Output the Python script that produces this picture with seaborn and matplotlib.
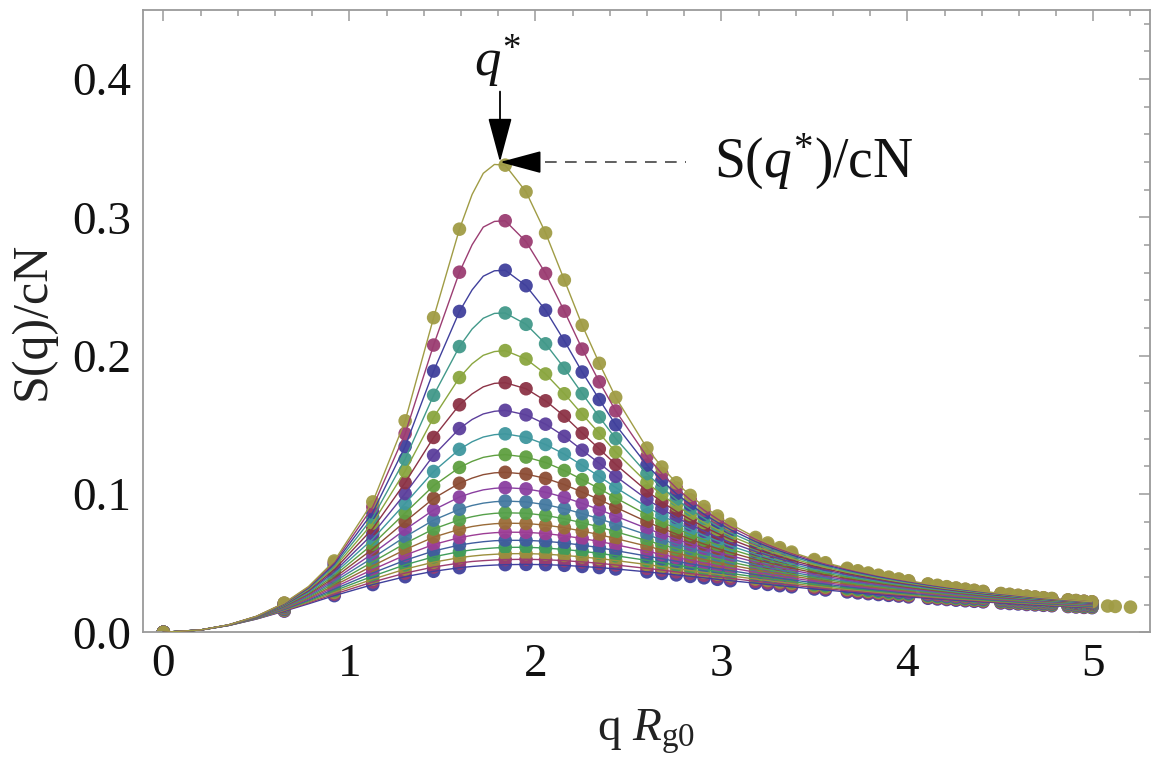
import numpy as np
import pandas as pd
import matplotlib
matplotlib.use("Agg")
import matplotlib.pyplot as plt
import seaborn as sns
from matplotlib.ticker import MultipleLocator, FixedLocator, FixedFormatter

nan = np.nan

# ---------------- data ----------------
q_dots = [0, 0.65, 0.919, 1.126, 1.30, 1.453, 1.592, 1.838, 1.95, 2.055, 2.156, 2.252, 2.344, 2.432,
          2.60, 2.68, 2.758, 2.833, 2.907, 2.979, 3.049, 3.184, 3.25, 3.314, 3.378, 3.50, 3.56, 3.677,
          3.734, 3.79, 3.845, 3.90, 3.954, 4.007, 4.111, 4.162, 4.212, 4.262, 4.312, 4.36, 4.408, 4.503,
          4.55, 4.596, 4.642, 4.687, 4.732, 4.777, 4.864, 4.907, 4.95, 4.993, 5.077, 5.118, 5.20]

# series, top curve (s01) to bottom curve (s20)
s01 = [0, 0.0212, 0.0516, 0.0943, 0.1529, 0.2275, 0.2915, 0.3378, 0.3185, 0.2888, 0.2547, 0.2220, 0.1945, 0.1699, 0.1332, 0.1195, 0.1081, 0.0990, 0.0909, 0.0841, 0.0782, 0.0686, 0.0646, 0.0612, 0.0580, 0.0526, 0.0503, 0.0463, 0.0445, 0.0429, 0.0413, 0.0399, 0.0386, 0.0373, 0.0350, 0.0340, 0.0330, 0.0321, 0.0312, 0.0304, 0.0296, 0.0281, 0.0275, 0.0268, 0.0262, 0.0256, 0.0250, 0.0245, 0.0235, 0.0230, 0.0225, 0.0221, 0.0190, 0.0187, 0.0182]
s02 = [0, 0.0210, 0.0505, 0.0907, 0.1437, 0.2077, 0.2604, 0.2976, 0.2825, 0.2595, 0.2322, 0.2048, 0.1811, 0.1601, 0.1271, 0.1148, 0.1043, 0.0958, 0.0883, 0.0819, 0.0763, 0.0672, 0.0633, 0.0600, 0.0570, 0.0518, 0.0496, 0.0457, 0.0439, 0.0424, 0.0409, 0.0395, 0.0381, 0.0369, 0.0347, 0.0337, 0.0327, 0.0318, 0.0310, 0.0302, 0.0294, 0.0279, 0.0273, 0.0266, 0.0260, 0.0254, 0.0249, 0.0243, 0.0233, 0.0229, 0.0224, 0.0220, nan, nan, nan]
s03 = [0, 0.0208, 0.0493, 0.0868, 0.1344, 0.1889, 0.2320, 0.2618, 0.2506, 0.2329, 0.2107, 0.1882, 0.1683, 0.1500, 0.1209, 0.1098, 0.1002, 0.0924, 0.0854, 0.0795, 0.0742, 0.0656, 0.0620, 0.0588, 0.0559, 0.0509, 0.0487, 0.0450, 0.0433, 0.0418, 0.0403, 0.0390, 0.0377, 0.0365, 0.0343, 0.0333, 0.0324, 0.0315, 0.0307, 0.0299, 0.0291, 0.0277, 0.0270, 0.0264, 0.0258, 0.0252, 0.0247, 0.0242, 0.0232, 0.0227, 0.0223, 0.0218, nan, nan, nan]
s04 = [0, 0.0206, 0.0480, 0.0830, 0.1253, 0.1714, 0.2066, 0.2309, 0.2227, 0.2086, 0.1910, 0.1726, 0.1557, 0.1401, 0.1147, 0.1047, 0.0961, 0.0889, 0.0825, 0.0769, 0.0720, 0.0640, 0.0605, 0.0575, 0.0547, 0.0500, 0.0479, 0.0442, 0.0426, 0.0411, 0.0398, 0.0384, 0.0372, 0.0360, 0.0339, 0.0330, 0.0320, 0.0312, 0.0303, 0.0296, 0.0288, 0.0274, 0.0268, 0.0262, 0.0256, 0.0250, 0.0245, 0.0240, 0.0230, 0.0226, 0.0221, 0.0217, nan, nan, nan]
s05 = [0, 0.0203, 0.0467, 0.0790, 0.1166, 0.1554, 0.1842, 0.2037, 0.1976, 0.1868, 0.1725, 0.1576, 0.1439, 0.1304, 0.1083, 0.0995, 0.0917, 0.0852, 0.0793, 0.0743, 0.0697, 0.0622, 0.0589, 0.0561, 0.0534, 0.0489, 0.0469, 0.0434, 0.0419, 0.0405, 0.0391, 0.0378, 0.0366, 0.0355, 0.0335, 0.0325, 0.0316, 0.0308, 0.0300, 0.0292, 0.0285, 0.0272, 0.0265, 0.0259, 0.0253, 0.0248, 0.0243, 0.0238, 0.0228, 0.0224, 0.0219, 0.0215, nan, nan, nan]
s06 = [0, 0.0201, 0.0453, 0.0751, 0.1082, 0.1409, 0.1645, 0.1805, 0.1761, 0.1674, 0.1563, 0.1440, 0.1326, 0.1214, 0.1022, 0.0943, 0.0874, 0.0816, 0.0762, 0.0716, 0.0673, 0.0603, 0.0573, 0.0546, 0.0521, 0.0478, 0.0459, 0.0426, 0.0411, 0.0397, 0.0384, 0.0372, 0.0360, 0.0350, 0.0330, 0.0321, 0.0312, 0.0304, 0.0296, 0.0289, 0.0282, 0.0268, 0.0262, 0.0257, 0.0251, 0.0245, 0.0240, 0.0235, 0.0226, 0.0222, 0.0217, 0.0213, nan, nan, nan]
s07 = [0, 0.0198, 0.0438, 0.0712, 0.1003, 0.1280, 0.1473, 0.1605, 0.1572, 0.1505, 0.1417, 0.1317, 0.1222, 0.1128, 0.0962, 0.0894, 0.0831, 0.0779, 0.0731, 0.0688, 0.0649, 0.0584, 0.0556, 0.0531, 0.0507, 0.0467, 0.0449, 0.0417, 0.0403, 0.0390, 0.0377, 0.0365, 0.0354, 0.0344, 0.0325, 0.0316, 0.0308, 0.0300, 0.0292, 0.0285, 0.0278, 0.0265, 0.0259, 0.0254, 0.0248, 0.0243, 0.0238, 0.0233, 0.0224, 0.0220, 0.0215, 0.0211, nan, nan, nan]
s08 = [0, 0.0195, 0.0424, 0.0675, 0.0931, 0.1163, 0.1323, 0.1435, 0.1410, 0.1358, 0.1288, 0.1207, 0.1127, 0.1047, 0.0906, 0.0845, 0.0790, 0.0743, 0.0699, 0.0661, 0.0625, 0.0565, 0.0539, 0.0515, 0.0493, 0.0455, 0.0438, 0.0408, 0.0394, 0.0382, 0.0370, 0.0358, 0.0348, 0.0338, 0.0319, 0.0311, 0.0303, 0.0295, 0.0288, 0.0281, 0.0274, 0.0262, 0.0256, 0.0250, 0.0245, 0.0240, 0.0235, 0.0230, 0.0221, 0.0217, 0.0213, 0.0209, nan, nan, nan]
s09 = [0, 0.0192, 0.0409, 0.0638, 0.0863, 0.1060, 0.1192, 0.1285, 0.1267, 0.1228, 0.1170, 0.1104, 0.1039, 0.0972, 0.0850, 0.0797, 0.0750, 0.0707, 0.0668, 0.0633, 0.0601, 0.0546, 0.0521, 0.0499, 0.0479, 0.0443, 0.0427, 0.0398, 0.0386, 0.0373, 0.0362, 0.0351, 0.0341, 0.0331, 0.0314, 0.0306, 0.0298, 0.0290, 0.0283, 0.0277, 0.0270, 0.0258, 0.0253, 0.0247, 0.0242, 0.0237, 0.0232, 0.0227, 0.0219, 0.0215, 0.0211, 0.0207, nan, nan, nan]
s10 = [0, 0.0188, 0.0394, 0.0603, 0.0801, 0.0968, 0.1078, 0.1157, 0.1144, 0.1113, 0.1068, 0.1014, 0.0960, 0.0904, 0.0799, 0.0753, 0.0710, 0.0673, 0.0638, 0.0606, 0.0577, 0.0526, 0.0504, 0.0484, 0.0464, 0.0431, 0.0416, 0.0389, 0.0377, 0.0365, 0.0354, 0.0344, 0.0334, 0.0325, 0.0308, 0.0300, 0.0293, 0.0286, 0.0279, 0.0272, 0.0266, 0.0254, 0.0249, 0.0244, 0.0239, 0.0234, 0.0229, 0.0225, 0.0216, 0.0212, 0.0209, 0.0205, nan, nan, nan]
s11 = [0, 0.0185, 0.0380, 0.0570, 0.0743, 0.0885, 0.0978, 0.1046, 0.1037, 0.1013, 0.0976, 0.0932, 0.0887, 0.0840, 0.0751, 0.0710, 0.0673, 0.0640, 0.0608, 0.0580, 0.0554, 0.0507, 0.0486, 0.0468, 0.0450, 0.0418, 0.0404, 0.0379, 0.0367, 0.0356, 0.0346, 0.0336, 0.0327, 0.0318, 0.0302, 0.0295, 0.0287, 0.0281, 0.0274, 0.0268, 0.0262, 0.0250, 0.0245, 0.0240, 0.0235, 0.0231, 0.0226, 0.0222, 0.0214, 0.0210, 0.0206, 0.0202, nan, nan, nan]
s12 = [0, 0.0181, 0.0366, 0.0539, 0.0691, 0.0811, 0.0890, 0.0949, 0.0943, 0.0923, 0.0894, 0.0858, 0.0821, 0.0781, 0.0705, 0.0670, 0.0637, 0.0608, 0.0580, 0.0554, 0.0530, 0.0488, 0.0469, 0.0452, 0.0435, 0.0406, 0.0393, 0.0369, 0.0358, 0.0348, 0.0338, 0.0329, 0.0320, 0.0311, 0.0296, 0.0289, 0.0282, 0.0275, 0.0269, 0.0263, 0.0257, 0.0246, 0.0241, 0.0237, 0.0232, 0.0227, 0.0223, 0.0219, 0.0211, 0.0207, 0.0203, 0.0200, nan, nan, nan]
s13 = [0, 0.0178, 0.0352, 0.0509, 0.0643, 0.0747, 0.0814, 0.0864, 0.0861, 0.0845, 0.0821, 0.0792, 0.0762, 0.0727, 0.0663, 0.0633, 0.0604, 0.0578, 0.0553, 0.0530, 0.0508, 0.0470, 0.0452, 0.0437, 0.0421, 0.0394, 0.0382, 0.0359, 0.0349, 0.0339, 0.0330, 0.0321, 0.0313, 0.0305, 0.0290, 0.0283, 0.0276, 0.0270, 0.0264, 0.0258, 0.0253, 0.0242, 0.0237, 0.0233, 0.0228, 0.0224, 0.0220, 0.0215, 0.0208, 0.0204, 0.0201, 0.0197, nan, nan, nan]
s14 = [0, 0.0174, 0.0338, 0.0481, 0.0598, 0.0688, 0.0745, 0.0789, 0.0787, 0.0775, 0.0756, 0.0732, 0.0706, 0.0678, 0.0623, 0.0596, 0.0572, 0.0549, 0.0526, 0.0506, 0.0486, 0.0452, 0.0436, 0.0421, 0.0407, 0.0382, 0.0370, 0.0349, 0.0339, 0.0330, 0.0322, 0.0313, 0.0305, 0.0298, 0.0284, 0.0277, 0.0271, 0.0265, 0.0259, 0.0253, 0.0248, 0.0238, 0.0233, 0.0229, 0.0224, 0.0220, 0.0216, 0.0212, 0.0205, 0.0201, 0.0198, 0.0195, nan, nan, nan]
s15 = [0, 0.0171, 0.0325, 0.0454, 0.0558, 0.0635, 0.0684, 0.0724, 0.0723, 0.0714, 0.0698, 0.0678, 0.0657, 0.0633, 0.0586, 0.0563, 0.0541, 0.0521, 0.0501, 0.0483, 0.0466, 0.0434, 0.0420, 0.0406, 0.0393, 0.0370, 0.0359, 0.0339, 0.0330, 0.0322, 0.0313, 0.0305, 0.0298, 0.0291, 0.0277, 0.0271, 0.0265, 0.0259, 0.0254, 0.0249, 0.0244, 0.0234, 0.0229, 0.0225, 0.0221, 0.0217, 0.0213, 0.0209, 0.0202, 0.0198, 0.0195, 0.0192, nan, nan, nan]
s16 = [0, 0.0167, 0.0312, 0.0429, 0.0521, 0.0588, 0.0631, 0.0665, 0.0665, 0.0658, 0.0646, 0.0630, 0.0612, 0.0591, 0.0551, 0.0532, 0.0513, 0.0495, 0.0478, 0.0461, 0.0446, 0.0417, 0.0404, 0.0391, 0.0379, 0.0358, 0.0348, 0.0329, 0.0321, 0.0313, 0.0305, 0.0298, 0.0290, 0.0284, 0.0271, 0.0265, 0.0259, 0.0254, 0.0249, 0.0244, 0.0239, 0.0230, 0.0225, 0.0221, 0.0217, 0.0213, 0.0209, 0.0206, 0.0199, 0.0195, 0.0192, 0.0189, nan, nan, nan]
s17 = [0, 0.0164, 0.0300, 0.0406, 0.0488, 0.0546, 0.0583, 0.0614, 0.0615, 0.0609, 0.0599, 0.0586, 0.0571, 0.0554, 0.0520, 0.0503, 0.0486, 0.0470, 0.0455, 0.0440, 0.0426, 0.0401, 0.0389, 0.0377, 0.0366, 0.0346, 0.0337, 0.0320, 0.0312, 0.0304, 0.0297, 0.0290, 0.0283, 0.0277, 0.0265, 0.0259, 0.0254, 0.0248, 0.0243, 0.0239, 0.0234, 0.0225, 0.0221, 0.0217, 0.0213, 0.0209, 0.0206, 0.0202, 0.0196, 0.0192, 0.0189, 0.0186, nan, nan, nan]
s18 = [0, 0.0160, 0.0288, 0.0384, 0.0457, 0.0507, 0.0540, 0.0568, 0.0569, 0.0565, 0.0556, 0.0545, 0.0533, 0.0519, 0.0490, 0.0475, 0.0461, 0.0447, 0.0433, 0.0420, 0.0408, 0.0385, 0.0374, 0.0363, 0.0353, 0.0335, 0.0326, 0.0310, 0.0303, 0.0296, 0.0289, 0.0282, 0.0276, 0.0270, 0.0258, 0.0253, 0.0248, 0.0243, 0.0238, 0.0234, 0.0229, 0.0221, 0.0217, 0.0213, 0.0209, 0.0206, 0.0202, 0.0199, 0.0192, 0.0189, 0.0186, 0.0183, nan, nan, nan]
s19 = [0, 0.0156, 0.0276, 0.0364, 0.0428, 0.0472, 0.0501, 0.0526, 0.0528, 0.0525, 0.0518, 0.0509, 0.0499, 0.0487, 0.0462, 0.0450, 0.0437, 0.0425, 0.0413, 0.0402, 0.0390, 0.0369, 0.0359, 0.0350, 0.0341, 0.0324, 0.0316, 0.0301, 0.0294, 0.0287, 0.0281, 0.0275, 0.0269, 0.0263, 0.0252, 0.0247, 0.0242, 0.0238, 0.0233, 0.0229, 0.0224, 0.0216, 0.0213, 0.0209, 0.0205, 0.0202, 0.0199, 0.0195, 0.0189, 0.0186, 0.0183, 0.0181, nan, nan, nan]
s20 = [0, 0.0153, 0.0265, 0.0345, 0.0402, 0.0441, 0.0467, 0.0489, 0.0491, 0.0489, 0.0484, 0.0476, 0.0468, 0.0458, 0.0437, 0.0426, 0.0415, 0.0404, 0.0394, 0.0383, 0.0373, 0.0355, 0.0346, 0.0337, 0.0329, 0.0313, 0.0306, 0.0292, 0.0285, 0.0279, 0.0273, 0.0267, 0.0262, 0.0256, 0.0246, 0.0241, 0.0237, 0.0232, 0.0228, 0.0224, 0.0220, 0.0212, 0.0208, 0.0205, 0.0201, 0.0198, 0.0195, 0.0192, 0.0186, 0.0183, 0.0180, 0.0178, nan, nan, nan]

# extra samples of the smooth curves (line only), values listed top curve -> bottom curve
line_extra_q = [0.2, 0.35, 0.5, 0.78, 1.66, 1.72, 1.78]
extra_020 = [0.00169, 0.00169, 0.00169, 0.00169, 0.00169, 0.00168, 0.00168, 0.00168, 0.00168, 0.00168, 0.00167, 0.00167, 0.00167, 0.00166, 0.00166, 0.00166, 0.00165, 0.00165, 0.00165, 0.00164]
extra_035 = [0.00536, 0.00535, 0.00534, 0.00532, 0.00531, 0.00529, 0.00527, 0.00524, 0.00522, 0.00520, 0.00517, 0.00514, 0.00512, 0.00509, 0.00505, 0.00502, 0.00499, 0.00495, 0.00492, 0.00488]
extra_050 = [0.01156, 0.01151, 0.01144, 0.01138, 0.01130, 0.01121, 0.01112, 0.01103, 0.01093, 0.01082, 0.01071, 0.01059, 0.01047, 0.01034, 0.01022, 0.01009, 0.00995, 0.00982, 0.00968, 0.00954]
extra_078 = [0.03307, 0.03262, 0.03210, 0.03157, 0.03097, 0.03035, 0.02969, 0.02903, 0.02833, 0.02762, 0.02690, 0.02618, 0.02546, 0.02473, 0.02401, 0.02330, 0.02260, 0.02191, 0.02124, 0.02058]
extra_166 = [0.3166, 0.2802, 0.2476, 0.2193, 0.1942, 0.1724, 0.1539, 0.1378, 0.1236, 0.1115, 0.1009, 0.0917, 0.0836, 0.0765, 0.0701, 0.0645, 0.0596, 0.0551, 0.0512, 0.0476]
extra_172 = [0.3319, 0.2930, 0.2575, 0.2271, 0.2003, 0.1775, 0.1579, 0.1412, 0.1265, 0.1140, 0.1030, 0.0934, 0.0851, 0.0777, 0.0713, 0.0655, 0.0604, 0.0559, 0.0518, 0.0482]
extra_178 = [0.3383, 0.2971, 0.2614, 0.2306, 0.2030, 0.1800, 0.1598, 0.1429, 0.1279, 0.1153, 0.1041, 0.0944, 0.0860, 0.0785, 0.0720, 0.0662, 0.0610, 0.0564, 0.0523, 0.0486]
line_q_max = 5.0

x_ticks = [0, 1, 2, 3, 4, 5]
x_tick_labels = ["0", "1", "2", "3", "4", "5"]
y_ticks = [0.0, 0.1, 0.2, 0.3, 0.4]
y_tick_labels = ["0.0", "0.1", "0.2", "0.3", "0.4"]

q_star = 1.81
s_star = 0.340

# colours, top curve -> bottom curve
palette_list = ["#a09c45", "#9b3d72", "#40409c", "#42998a", "#8aa63f", "#8c3346", "#5c3f9c",
                "#3f979e", "#5f9f40", "#8c4d35", "#8a3fa0", "#4479a0", "#55a04a", "#9a6b38",
                "#9c3d95", "#3f5c9e", "#3f9c5a", "#9c8f3d", "#9b3d70", "#40409c"]

# ---------------- build tables ----------------
series = [s01, s02, s03, s04, s05, s06, s07, s08, s09, s10,
          s11, s12, s13, s14, s15, s16, s17, s18, s19, s20]
extras = [extra_020, extra_035, extra_050, extra_078, extra_166, extra_172, extra_178]
names = [f"s{i + 1:02d}" for i in range(len(series))]
pal = dict(zip(names, palette_list))
order = names[::-1]  # bottom curve first, top curve drawn last

dot_rows, line_rows = [], []
for idx in range(len(series) - 1, -1, -1):
    nm = names[idx]
    vals = series[idx]
    for q, v in zip(q_dots, vals):
        if not np.isnan(v):
            dot_rows.append((nm, q, v))
            if q <= line_q_max:
                line_rows.append((nm, q, v))
    for q, ex in zip(line_extra_q, extras):
        line_rows.append((nm, q, ex[idx]))
dots = pd.DataFrame(dot_rows, columns=["series", "q", "S"])
lines = pd.DataFrame(line_rows, columns=["series", "q", "S"])

# ---------------- plot ----------------
sns.set_theme(style="white")
plt.rcParams["font.family"] = ["Liberation Serif", "DejaVu Serif"]
plt.rcParams["mathtext.fontset"] = "custom"
plt.rcParams["mathtext.rm"] = "Liberation Serif"
plt.rcParams["mathtext.it"] = "Liberation Serif:italic"

fig = plt.figure(figsize=(11.68, 7.68), dpi=100)
ax = fig.add_axes([0.1222, 0.1767, 0.8624, 0.8103])

sns.scatterplot(data=dots, x="q", y="S", hue="series", hue_order=order, palette=pal,
                s=95, linewidth=0, alpha=0.95, legend=False, ax=ax, zorder=2)
sns.lineplot(data=lines, x="q", y="S", hue="series", hue_order=order, palette=pal,
             estimator=None, sort=True, linewidth=1.0, legend=False, ax=ax, zorder=3)

ax.set_xlim(-0.111, 5.305)
ax.set_ylim(0, 0.45)

frame_col = "#9a9a9a"
for sp in ax.spines.values():
    sp.set_color(frame_col)
    sp.set_linewidth(1.3)

ax.xaxis.set_major_locator(FixedLocator(x_ticks))
ax.xaxis.set_major_formatter(FixedFormatter(x_tick_labels))
ax.yaxis.set_major_locator(FixedLocator(y_ticks))
ax.yaxis.set_major_formatter(FixedFormatter(y_tick_labels))
ax.xaxis.set_minor_locator(MultipleLocator(0.2))
ax.yaxis.set_minor_locator(MultipleLocator(0.02))
ax.tick_params(which="both", direction="in", top=True, right=True, color=frame_col, width=1.1)
ax.tick_params(which="major", length=8)
ax.tick_params(which="minor", length=4.5)
ax.tick_params(axis="both", which="major", labelsize=34, labelcolor="#111111")
ax.tick_params(axis="x", which="major", pad=8)
ax.tick_params(axis="y", which="major", pad=8)

ax.set_xlabel(r"q $R_{\mathrm{g0}}$", fontsize=34, labelpad=16, color="#222222")
ax.set_ylabel("S(q)/cN", fontsize=36, labelpad=12, color="#222222")

# annotations
ax.annotate("", xy=(q_star, s_star), xytext=(q_star, 0.391),
            arrowprops=dict(arrowstyle="-|>,head_length=2.8,head_width=0.75", color="black",
                            lw=1.3, shrinkA=0, shrinkB=0, mutation_scale=10), zorder=6)
ax.annotate("", xy=(q_star, s_star), xytext=(q_star + 0.205, s_star),
            arrowprops=dict(arrowstyle="-|>,head_length=2.6,head_width=0.7", color="black",
                            lw=1.3, shrinkA=0, shrinkB=0, mutation_scale=10), zorder=6)
ax.plot([2.05, 2.81], [s_star, s_star], color="#444444", lw=1.2, ls=(0, (7, 5)), zorder=6)
ax.text(2.96, s_star, r"S($q^{*}$)/cN", fontsize=40, ha="left", va="center", color="#111111")
ax.text(1.795, 0.413, r"$q^{*}$", fontsize=38, ha="center", va="center", color="#111111")

fig.savefig("out.png", dpi=100)
